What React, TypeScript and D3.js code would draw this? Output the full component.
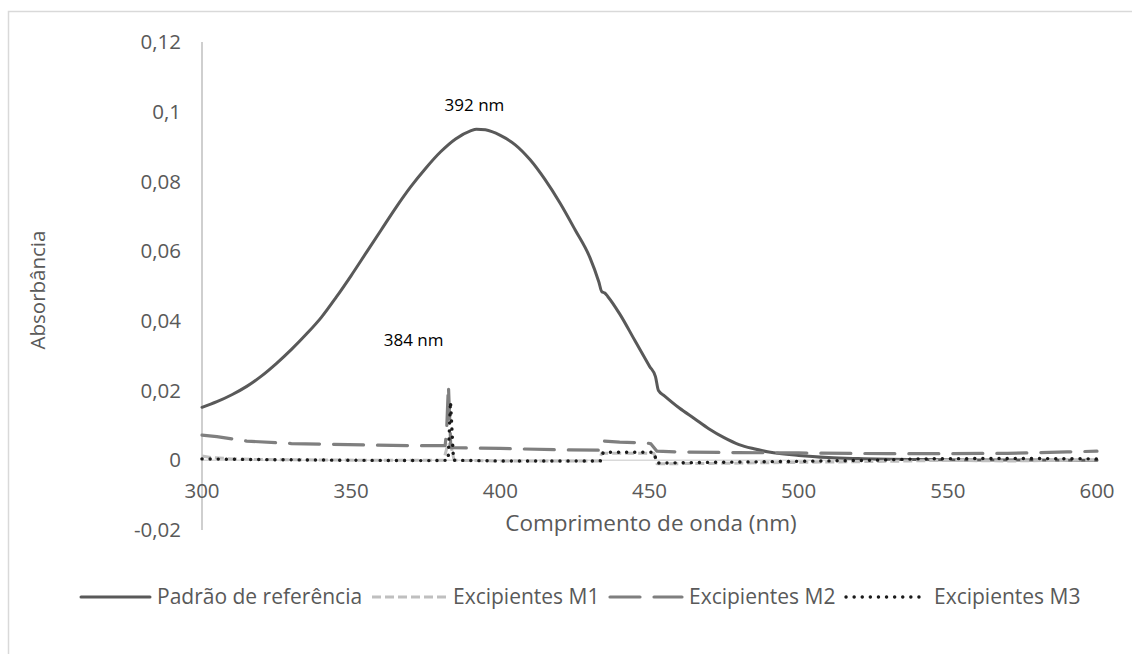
import React from "react";
import * as d3 from "d3";

// ---------- data ----------
const xTicks = [300, 350, 400, 450, 500, 550, 600];
const yTicks = [-0.02, 0, 0.02, 0.04, 0.06, 0.08, 0.1, 0.12];

const padraoNm = [300, 305, 310, 315, 320, 325, 330, 335, 340, 345, 350, 355, 360, 365, 370, 375, 380, 385, 390, 392, 395, 400, 405, 410, 415, 420, 425, 430, 433, 434, 435, 436, 440, 445, 450, 452, 453, 455, 460, 465, 470, 475, 480, 485, 490, 500, 510, 520, 540, 560, 600];
const padraoAbs = [0.0152, 0.0168, 0.0188, 0.0212, 0.0242, 0.0278, 0.0318, 0.0362, 0.041, 0.0468, 0.053, 0.0595, 0.066, 0.0725, 0.0785, 0.0838, 0.0885, 0.0922, 0.0945, 0.095, 0.0948, 0.0932, 0.0905, 0.0862, 0.0805, 0.0738, 0.0662, 0.0582, 0.0512, 0.0484, 0.048, 0.047, 0.042, 0.0345, 0.027, 0.024, 0.02, 0.0185, 0.015, 0.012, 0.009, 0.0065, 0.0045, 0.0033, 0.0024, 0.0014, 0.0008, 0.0005, 0.0002, 0.0001, 0.0];

const m1Nm = [300, 303, 310, 320, 340, 360, 381, 382.5, 383.5, 384.5, 400, 433, 434, 451.5, 452.5, 470, 500, 530, 550, 570, 600];
const m1Abs = [0.0012, 0.0008, 0.0004, 0.0002, 0.0001, 0.0, 0.0, 0.005, 0.004, 0.0, -0.0002, -0.0002, 0.002, 0.002, -0.001, -0.0009, -0.0006, -0.0003, 0.0, -0.0002, 0.0001];

const m2Nm = [300, 305, 315, 330, 355, 370, 381.5, 382, 382.6, 383.4, 400, 420, 433, 433.6, 440, 449, 450.5, 452.5, 460, 480, 500, 530, 550, 570, 590, 600];
const m2Abs = [0.0072, 0.0068, 0.0055, 0.0048, 0.0044, 0.0042, 0.0042, 0.0085, 0.0215, 0.0036, 0.0034, 0.003, 0.0029, 0.0056, 0.0052, 0.005, 0.0047, 0.0026, 0.0024, 0.0022, 0.0021, 0.0019, 0.0019, 0.002, 0.0024, 0.0026];

const m3Nm = [300, 320, 350, 375, 382.5, 383.3, 384.3, 400, 433.5, 434.5, 451.5, 452.5, 470, 500, 525, 540, 560, 580, 600];
const m3Abs = [0.0004, 0.0002, 0.0, -0.0001, 0.0, 0.0168, 0.0, -0.0002, -0.0002, 0.0023, 0.0023, -0.0008, -0.0006, -0.0003, 0.0, 0.0004, 0.0005, 0.0005, 0.0004];

const seriesNames = ["Padrão de referência", "Excipientes M1", "Excipientes M2", "Excipientes M3"];
const annotations = [
  { nm: 392, label: "392 nm" },
  { nm: 384, label: "384 nm" },
];

// ---------- layout ----------
const W = 1132;
const H = 654;
const plot = { left: 202, right: 1097, top: 42, bottom: 530 };
const FONT = "'Open Sans', 'Liberation Sans', sans-serif";
const TEXT = "#595959";

const styles = [
  { color: "#595959", width: 3, dash: null as string | null, cap: "round" },
  { color: "#bfbfbf", width: 3, dash: "9,4", cap: "butt" },
  { color: "#7f7f7f", width: 3.2, dash: "30,14", cap: "round" },
  { color: "#1a1a1a", width: 3.4, dash: "0.1,8", cap: "round" },
];

export default function App() {
  const x = d3.scaleLinear().domain([300, 600]).range([plot.left, plot.right]);
  const y = d3.scaleLinear().domain([-0.02, 0.12]).range([plot.bottom, plot.top]);

  const mk = (nm: number[], ab: number[]) => nm.map((n, i) => [n, ab[i]] as [number, number]);
  const data = [mk(padraoNm, padraoAbs), mk(m1Nm, m1Abs), mk(m2Nm, m2Abs), mk(m3Nm, m3Abs)];

  const smooth = d3
    .line<[number, number]>()
    .x((d) => x(d[0]))
    .y((d) => y(d[1]))
    .curve(d3.curveMonotoneX);
  const straight = d3
    .line<[number, number]>()
    .x((d) => x(d[0]))
    .y((d) => y(d[1]));

  const fmt = (v: number) => {
    if (Math.abs(v) < 1e-9) return "0";
    return String(+v.toFixed(2)).replace(".", ",");
  };

  const legendItems = [
    { x1: 81, x2: 150, tx: 157 },
    { x1: 372, x2: 447, tx: 453 },
    { x1: 610, x2: 682, tx: 689 },
    { x1: 846, x2: 922, tx: 934 },
  ];
  const legendY = 597;

  return (
    <svg
      width={W}
      height={H}
      style={{ position: "absolute", left: 0, top: 0, background: "#fff" }}
      fontFamily={FONT}
    >
      <rect x={8.5} y={11.5} width={1300} height={800} fill="#fff" stroke="#d9d9d9" strokeWidth={1.5} />

      <line x1={plot.left} x2={plot.right} y1={y(0)} y2={y(0)} stroke="#d9d9d9" strokeWidth={1.5} />
      <line x1={plot.left} x2={plot.left} y1={plot.top} y2={plot.bottom} stroke="#bfbfbf" strokeWidth={1.5} />

      {yTicks.map((t) => (
        <text key={t} x={181} y={y(t)} dy="0.35em" textAnchor="end" fontSize={20.5} fill={TEXT}>
          {fmt(t)}
        </text>
      ))}
      {xTicks.map((t) => (
        <text key={t} x={x(t)} y={491} dy="0.35em" textAnchor="middle" fontSize={20.5} fill={TEXT}>
          {t}
        </text>
      ))}

      <text x={651} y={523} dy="0.35em" textAnchor="middle" fontSize={22.5} fill={TEXT}>
        Comprimento de onda (nm)
      </text>
      <text
        transform={`translate(38,290) rotate(-90)`}
        dy="0.35em"
        textAnchor="middle"
        fontSize={20.5}
        fill={TEXT}
      >
        Absorbância
      </text>

      {data.map((d, i) => {
        const s = styles[i];
        return (
          <path
            key={i}
            d={(i === 0 ? smooth : straight)(d) || ""}
            fill="none"
            stroke={s.color}
            strokeWidth={s.width}
            strokeDasharray={s.dash || undefined}
            strokeLinecap={s.cap as any}
            strokeLinejoin="round"
          />
        );
      })}

      {annotations.map((a, i) => (
        <text
          key={i}
          x={i === 0 ? x(a.nm) - 2 : x(a.nm) - 39}
          y={i === 0 ? 105 : 340}
          dy="0.35em"
          textAnchor="middle"
          fontSize={17}
          fill="#000"
        >
          {a.label}
        </text>
      ))}

      {legendItems.map((l, i) => {
        const s = styles[i];
        return (
          <g key={i}>
            <line
              x1={l.x1}
              x2={l.x2}
              y1={legendY}
              y2={legendY}
              stroke={s.color}
              strokeWidth={s.width}
              strokeDasharray={s.dash || undefined}
              strokeLinecap={s.cap as any}
            />
            <text x={l.tx} y={legendY} dy="0.35em" fontSize={21} fill={TEXT}>
              {seriesNames[i]}
            </text>
          </g>
        );
      })}
    </svg>
  );
}
